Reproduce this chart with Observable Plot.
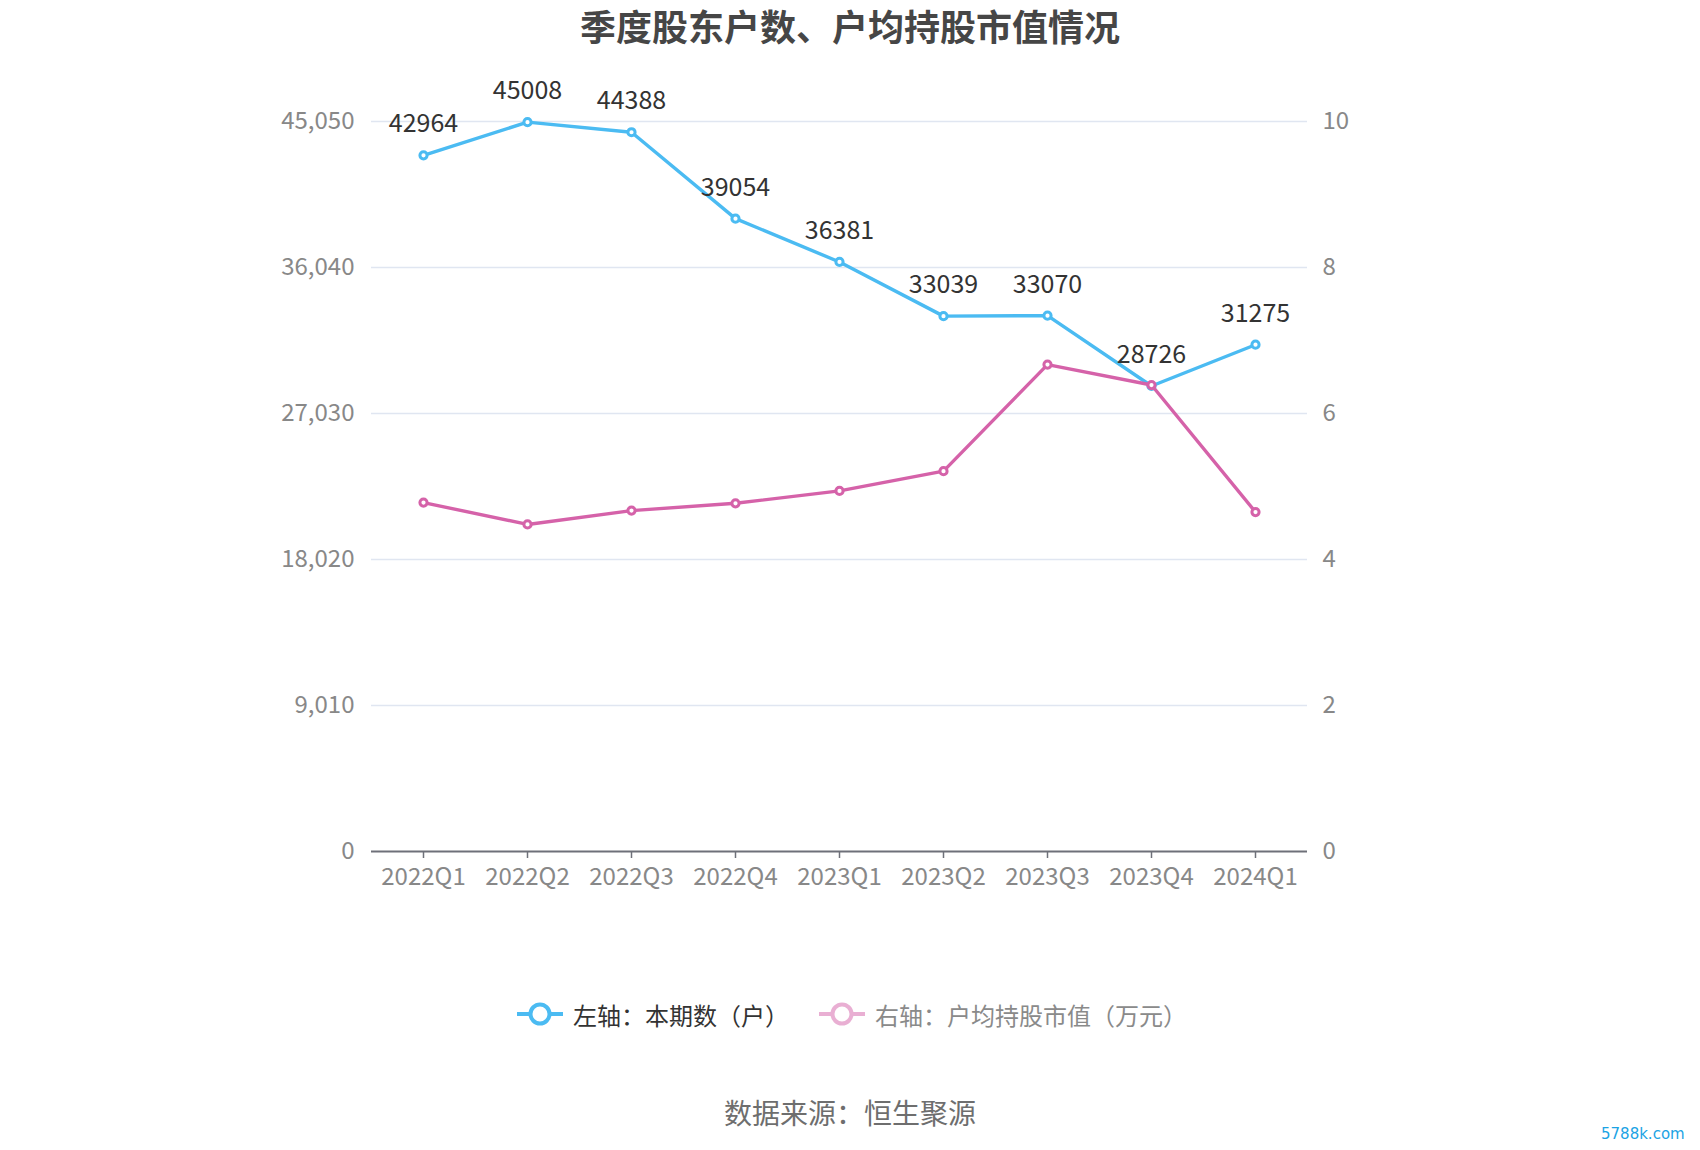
<!DOCTYPE html>
<html>
<head>
<meta charset="utf-8">
<script src="https://cdn.jsdelivr.net/npm/d3@7"></script>
<script src="https://cdn.jsdelivr.net/npm/@observablehq/plot@0.6"></script>
<style>
  html, body { margin: 0; padding: 0; background: #fff; }
  body { width: 1700px; height: 1150px; position: relative; overflow: hidden;
         font-family: "Noto Sans CJK SC", "Noto Sans", sans-serif; }
  #title { position: absolute; left: 0; top: 0; width: 1700px; height: 50px; line-height: 50px;
           text-align: center; font-size: 36px; font-weight: bold; color: #464646; padding-left: 0px; box-sizing: border-box; }
  #chart { position: absolute; left: 0; top: 59px; }
  #legend { position: absolute; left: 0; top: 994px; width: 1700px; height: 40px;
            display: flex; justify-content: center; align-items: center; font-size: 24px; padding-left: 2px; box-sizing: border-box; }
  .item { display: flex; align-items: center; margin: 0 14px; }
  .item svg { margin-right: 8px; }
  #caption { position: absolute; left: 0; top: 1092px; width: 1700px; text-align: center;
             font-size: 28px; color: #6e6e6e; line-height: 40px; padding-left: 0px; box-sizing: border-box; }
  #wm { position: absolute; left: 1601px; top: 1125px; font-size: 15px; color: #1ba3e4; font-family: "DejaVu Sans", sans-serif; }
</style>
</head>
<body>
<div id="title">季度股东户数、户均持股市值情况</div>
<div id="chart"></div>
<div id="legend"></div>
<div id="caption">数据来源：恒生聚源</div>
<div id="wm">5788k.com</div>
<script>
const quarters = ["2022Q1","2022Q2","2022Q3","2022Q4","2023Q1","2023Q2","2023Q3","2023Q4","2024Q1"];
const holders = [42964, 45008, 44388, 39054, 36381, 33039, 33070, 28726, 31275];
const avgValue = [4.78, 4.48, 4.67, 4.77, 4.94, 5.21, 6.67, 6.39, 4.65];
const leftTicks = [0, 9010, 18020, 27030, 36040, 45050];
const rightTicks = [0, 2, 4, 6, 8, 10];
const seriesNames = ["左轴：本期数（户）", "右轴：户均持股市值（万元）"];

const blue = "#4bbbf2";
const pink = "#d562a9";
const ratio = 45050 / 10;

const data = quarters.map((q, i) => ({q, holders: holders[i], avg: avgValue[i]}));
const font = "'Noto Sans CJK SC', 'Noto Sans', sans-serif";

const chart = Plot.plot({
  width: 1700,
  height: 880,
  marginTop: 62,
  marginBottom: 88,
  marginLeft: 371,
  marginRight: 393,
  style: {fontFamily: font, background: "white", overflow: "visible"},
  x: {type: "point", domain: quarters, padding: 0.5},
  y: {domain: [0, 45050]},
  marks: [
    Plot.ruleY(leftTicks.slice(1), {stroke: "#e0e6f1", strokeWidth: 1.5}),
    Plot.axisY({ticks: leftTicks, tickFormat: d3.format(","), tickSize: 0, tickPadding: 17,
                fontSize: 24, fill: "#888", label: null}),
    Plot.axisY({anchor: "right", ticks: rightTicks.map(v => v * ratio), tickFormat: d => String(Math.round(d / ratio)),
                tickSize: 0, tickPadding: 15, fontSize: 24, fill: "#888", label: null}),
    Plot.ruleY([0], {stroke: "#6e7079", strokeWidth: 2}),
    Plot.axisX({tickSize: 7, tickPadding: 9, fontSize: 24, fill: "#888", stroke: "#6e7079", strokeWidth: 1.5, label: null}),
    Plot.lineY(data, {x: "q", y: "holders", stroke: blue, strokeWidth: 3.4}),
    Plot.dot(data, {x: "q", y: "holders", r: 3.6, fill: "white", stroke: blue, strokeWidth: 3}),
    Plot.text(data, {x: "q", y: "holders", text: d => String(d.holders), dy: -31, fontSize: 25, fill: "#333"}),
    Plot.lineY(data, {x: "q", y: d => d.avg * ratio, stroke: pink, strokeWidth: 3.4}),
    Plot.dot(data, {x: "q", y: d => d.avg * ratio, r: 3.6, fill: "white", stroke: pink, strokeWidth: 3})
  ]
});
document.getElementById("chart").appendChild(chart);

// legend
const legend = d3.select("#legend");
const items = [
  {name: seriesNames[0], color: blue, text: "#333", opacity: 1},
  {name: seriesNames[1], color: pink, text: "#8a8a8a", opacity: 0.5}
];
items.forEach(it => {
  const div = legend.append("div").attr("class", "item");
  const s = div.append("svg").attr("width", 50).attr("height", 30).style("opacity", it.opacity);
  s.append("line").attr("x1", 2).attr("x2", 48).attr("y1", 15).attr("y2", 15)
    .attr("stroke", it.color).attr("stroke-width", 4);
  s.append("circle").attr("cx", 25).attr("cy", 15).attr("r", 9.5)
    .attr("fill", "white").attr("stroke", it.color).attr("stroke-width", 4);
  div.append("span").text(it.name).style("color", it.text);
});
</script>
</body>
</html>
